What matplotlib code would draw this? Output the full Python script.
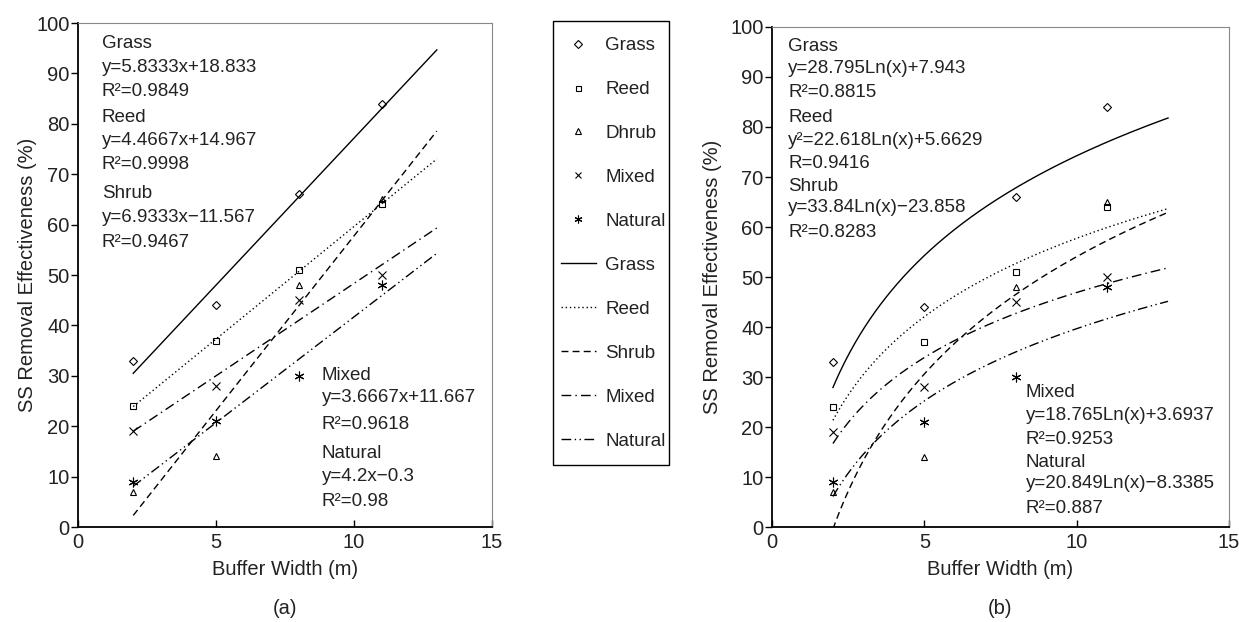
import numpy as np
import matplotlib
matplotlib.use("Agg")
import matplotlib.pyplot as plt
from matplotlib.lines import Line2D
from matplotlib.patches import Rectangle

plt.rcParams['font.family'] = ['Liberation Sans', 'DejaVu Sans']
plt.rcParams['font.size'] = 13

# measured SS removal (%) at each buffer width (m)
widths = [2, 5, 8, 11]
grass = [33, 44, 66, 84]
reed = [24, 37, 51, 64]
shrub = [7, 14, 48, 65]
mixed = [19, 28, 45, 50]
natural = [9, 21, 30, 48]

names = ['Grass', 'Reed', 'Shrub', 'Mixed', 'Natural']
marker_names = ['Grass', 'Reed', 'Dhrub', 'Mixed', 'Natural']

# fitted trends (slope, intercept) for linear and log models
lin_slope = [5.8333, 4.4667, 6.9333, 3.6667, 4.2]
lin_icpt = [18.833, 14.967, -11.567, 11.667, -0.3]
lin_r2 = ['0.9849', '0.9998', '0.9467', '0.9618', '0.98']
log_coef = [28.795, 22.618, 33.84, 18.765, 20.849]
log_icpt = [7.943, 5.6629, -23.858, 3.6937, -8.3385]
fit_range = (2, 13)

series = [grass, reed, shrub, mixed, natural]
markers = ['D', 's', '^', 'x', (6, 2, 0)]
msizes = [4.5, 4.5, 5, 6, 7]
styles = ['-', (0, (1, 2)), (0, (5, 3)), (0, (7, 3, 1, 3)), (0, (7, 2.5, 1, 2.5, 1, 2.5))]
ink = '#222222'
big = 14.5

fig = plt.figure(figsize=(12.39, 6.22), dpi=100)
axa = fig.add_axes([0.0630, 0.1527, 0.3341, 0.8103])
axb = fig.add_axes([0.6231, 0.1527, 0.3688, 0.8039])

xs = np.linspace(fit_range[0], fit_range[1], 200)

for ax in (axa, axb):
    for i, ys in enumerate(series):
        ax.plot(widths, ys, linestyle='none', marker=markers[i], ms=msizes[i],
                mfc='none', mec='black', mew=0.8)
    ax.set_xlim(0, 15)
    ax.set_ylim(0, 100)
    ax.set_xticks([0, 5, 10, 15])
    ax.set_yticks(range(0, 101, 10))
    ax.tick_params(axis='x', direction='in', length=5, width=1, pad=4,
                   labelcolor=ink, labelsize=big, top=False)
    ax.tick_params(axis='y', direction='out', length=5, width=1, pad=1,
                   labelcolor=ink, labelsize=big, right=False)
    ax.spines['left'].set_linewidth(1.3)
    ax.spines['bottom'].set_linewidth(1.3)
    for s in ('top', 'right'):
        ax.spines[s].set_color('#888888')
        ax.spines[s].set_linewidth(0.8)
    ax.set_xlabel('Buffer Width (m)', color=ink, fontsize=big, labelpad=6)
    ax.set_ylabel('SS Removal Effectiveness (%)', color=ink, fontsize=big)

axa.yaxis.set_label_coords(-0.099, 0.5)
axb.yaxis.set_label_coords(-0.110, 0.5)

for i in range(5):
    axa.plot(xs, lin_slope[i] * xs + lin_icpt[i], color='black', lw=1.0, linestyle=styles[i])
    axb.plot(xs, log_coef[i] * np.log(xs) + log_icpt[i], color='black', lw=1.0, linestyle=styles[i])

def num(v):
    return f'{v:g}'.replace('-', '\u2212')

def lin_eq(i):
    sign = '+' if lin_icpt[i] >= 0 else '\u2212'
    return f'y={num(lin_slope[i])}x{sign}{num(abs(lin_icpt[i]))}'

def log_eq(i):
    sign = '+' if log_icpt[i] >= 0 else '\u2212'
    return f'y={num(log_coef[i])}Ln(x){sign}{num(abs(log_icpt[i]))}'

# equation annotations, panel (a)
ta = dict(color=ink, fontsize=13.5, va='center', ha='left')
rows_a = [
    (0.86, 96.0, 'Grass'), (0.86, 91.2, lin_eq(0)), (0.86, 86.5, 'R\u00b2=' + lin_r2[0]),
    (0.86, 81.3, 'Reed'), (0.86, 76.6, lin_eq(1)), (0.86, 71.9, 'R\u00b2=' + lin_r2[1]),
    (0.86, 66.2, 'Shrub'), (0.86, 61.4, lin_eq(2)), (0.86, 56.4, 'R\u00b2=' + lin_r2[2]),
    (8.83, 30.0, 'Mixed'), (8.83, 25.7, lin_eq(3)), (8.83, 20.4, 'R\u00b2=' + lin_r2[3]),
    (8.83, 14.6, 'Natural'), (8.83, 10.0, lin_eq(4)), (8.83, 5.0, 'R\u00b2=' + lin_r2[4]),
]
for x, y, s in rows_a:
    axa.text(x, y, s, **ta)

# equation annotations, panel (b)
rows_b = [
    (0.53, 96.1, 'Grass'), (0.53, 91.7, log_eq(0)), (0.53, 86.9, 'R\u00b2=0.8815'),
    (0.53, 81.9, 'Reed'), (0.53, 77.4, 'y\u00b2=' + log_eq(1)[2:]), (0.53, 72.7, 'R=0.9416'),
    (0.53, 68.2, 'Shrub'), (0.53, 63.9, log_eq(2)), (0.53, 58.9, 'R\u00b2=0.8283'),
    (8.33, 26.9, 'Mixed'), (8.33, 22.4, log_eq(3)), (8.33, 17.5, 'R\u00b2=0.9253'),
    (8.33, 12.9, 'Natural'), (8.33, 8.7, log_eq(4)), (8.33, 3.7, 'R\u00b2=0.887'),
]
for x, y, s in rows_b:
    axb.text(x, y, s, **ta)

# shared legend between the panels, boxed by hand
handles = [Line2D([], [], linestyle='none', marker=markers[i], ms=msizes[i] * 0.8,
                  mfc='none', mec='black', mew=0.8) for i in range(5)]
handles += [Line2D([], [], color='black', lw=1.0, linestyle=styles[i]) for i in range(5)]
labels = marker_names + names
leg = fig.legend(handles, labels, loc='upper left', bbox_to_anchor=(561 / 1239, 1 - 37 / 622),
                 frameon=False, fontsize=13.5, labelspacing=1.43, handlelength=1.85,
                 handletextpad=0.5, borderpad=0, borderaxespad=0)
for t in leg.get_texts():
    t.set_color(ink)
fig.patches.append(Rectangle((553 / 1239, 1 - 465 / 622), 116 / 1239, 444 / 622,
                             transform=fig.transFigure, fill=False, edgecolor='black', lw=1.0))

fig.text(0.0630 + 0.3341 / 2, 0.0225, '(a)', ha='center', va='center', color=ink, fontsize=big)
fig.text(0.6231 + 0.3688 / 2, 0.0225, '(b)', ha='center', va='center', color=ink, fontsize=big)

fig.savefig('out.png', dpi=100)
